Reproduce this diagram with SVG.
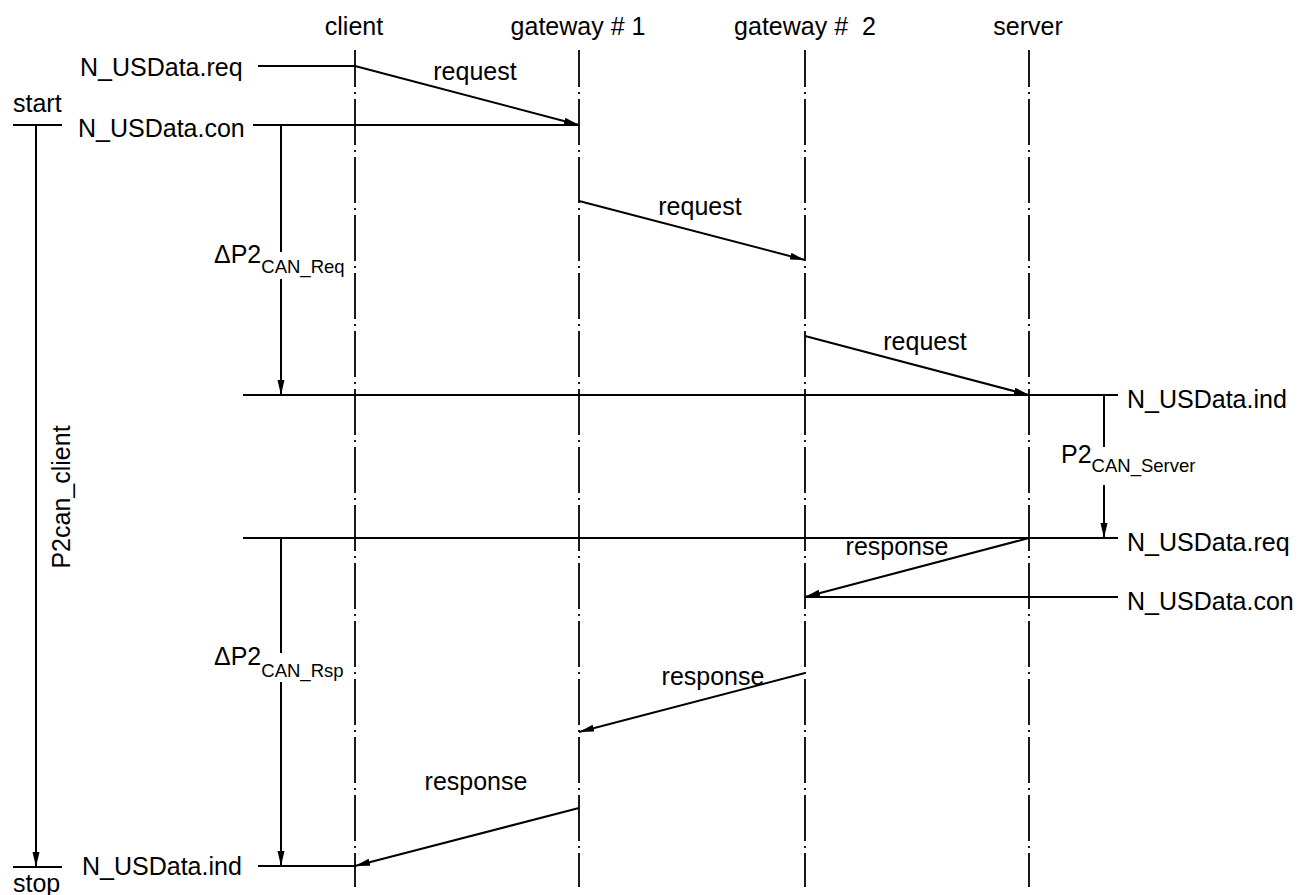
<svg xmlns="http://www.w3.org/2000/svg" width="1302" height="895" viewBox="0 0 1302 895">
<style>
text{font-family:"Liberation Sans",Arial,sans-serif;font-size:25px;fill:#000}
.sub{font-size:18.5px}
.mid{text-anchor:middle}
.pre{white-space:pre}
.life{stroke:#000;stroke-width:1.8;fill:none;stroke-dasharray:46 5 2 5;stroke-dashoffset:9}
.ln{stroke:#000;stroke-width:2;fill:none}
.ar{stroke:#000;stroke-width:2;fill:none;marker-end:url(#ah)}
</style>
<defs>
<marker id="ah" markerUnits="userSpaceOnUse" markerWidth="16" markerHeight="8" refX="15" refY="3.5" orient="auto">
<path d="M0,0 L15,3.5 L0,7 z" fill="#000"/>
</marker>
</defs>
<rect width="1302" height="895" fill="#fff"/>
<g id="client"><text class="mid" x="354" y="35">client</text><line class="life" x1="355" y1="50" x2="355" y2="887"/></g>
<g id="gateway1"><text class="mid pre" x="578" y="35">gateway # 1</text><line class="life" x1="579" y1="50" x2="579" y2="887"/></g>
<g id="gateway2"><text class="mid pre" x="805" y="35">gateway #  2</text><line class="life" x1="805" y1="50" x2="805" y2="887"/></g>
<g id="server"><text class="mid" x="1028" y="35">server</text><line class="life" x1="1029" y1="50" x2="1029" y2="887"/></g>
<g id="labels">
<text x="80" y="76">N_USData.req</text>
<text x="78" y="137">N_USData.con</text>
<text x="82" y="875">N_USData.ind</text>
<text x="1127" y="408">N_USData.ind</text>
<text x="1127" y="551">N_USData.req</text>
<text x="1127" y="610">N_USData.con</text>
<text x="13" y="112">start</text>
<text x="13" y="892">stop</text>
<text transform="translate(70,497) rotate(-90)" class="mid">P2can_client</text>
<text x="214" y="263">ΔP2<tspan class="sub" dy="10">CAN_Req</tspan></text>
<text x="214" y="665">ΔP2<tspan class="sub" dy="12">CAN_Rsp</tspan></text>
<text x="1061" y="463">P2<tspan class="sub" dy="9">CAN_Server</tspan></text>
<text class="mid" x="475" y="80">request</text>
<text class="mid" x="700" y="215">request</text>
<text class="mid" x="925" y="350">request</text>
<text class="mid" x="897" y="555">response</text>
<text class="mid" x="713" y="685">response</text>
<text class="mid" x="476" y="790">response</text>
</g>
<g id="connectors">
<line class="ln" x1="258" y1="66" x2="355" y2="66"/>
<line class="ar" x1="355" y1="66" x2="579" y2="125"/>
<line class="ln" x1="253" y1="125" x2="579" y2="125"/>
<line class="ln" x1="13" y1="125" x2="62" y2="125"/>
<line class="ar" x1="36" y1="125" x2="36" y2="867"/>
<line class="ln" x1="13" y1="867" x2="62" y2="867"/>
<line class="ln" x1="281" y1="125" x2="281" y2="252"/>
<line class="ar" x1="281" y1="279" x2="281" y2="395"/>
<line class="ar" x1="579" y1="201" x2="805" y2="260"/>
<line class="ar" x1="805" y1="336" x2="1029" y2="395"/>
<line class="ln" x1="243" y1="395" x2="1118" y2="395"/>
<line class="ln" x1="1104" y1="395" x2="1104" y2="447"/>
<line class="ar" x1="1104" y1="485" x2="1104" y2="538"/>
<line class="ln" x1="243" y1="538" x2="1118" y2="538"/>
<line class="ar" x1="1029" y1="538" x2="805" y2="597"/>
<line class="ln" x1="805" y1="597" x2="1118" y2="597"/>
<line class="ln" x1="281" y1="538" x2="281" y2="653"/>
<line class="ar" x1="281" y1="682" x2="281" y2="866"/>
<line class="ar" x1="805" y1="673" x2="579" y2="732"/>
<line class="ar" x1="579" y1="808" x2="355" y2="866"/>
<line class="ln" x1="258" y1="866" x2="355" y2="866"/>
</g>
</svg>
